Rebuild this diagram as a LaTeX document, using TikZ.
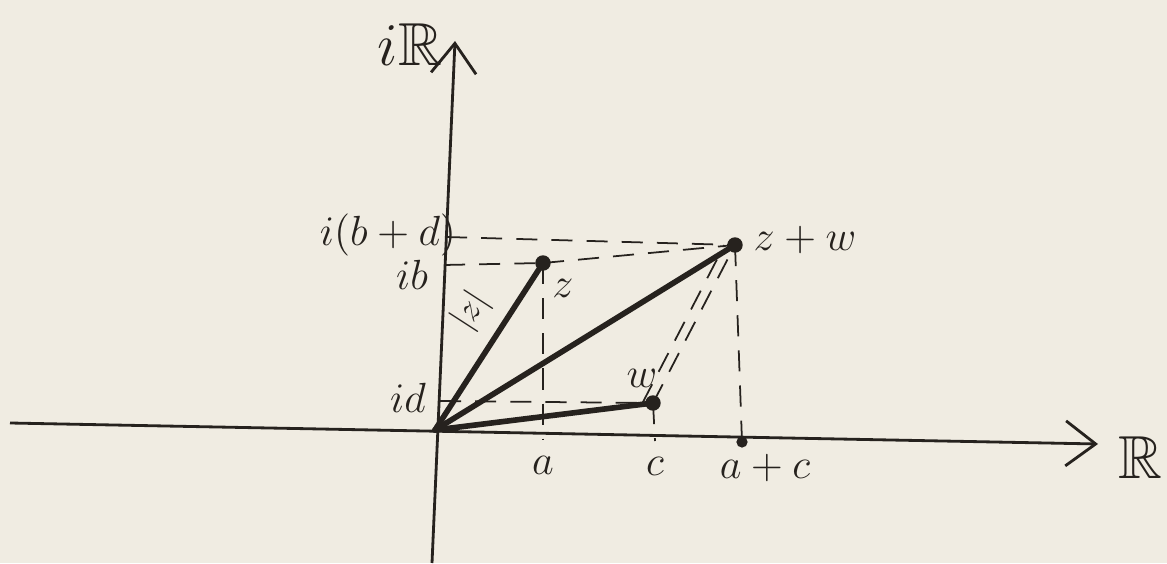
\documentclass[tikz,border=0pt]{standalone}
\usepackage{amsmath,amssymb}
\usepackage{tikz}
\usetikzlibrary{arrows.meta}

\definecolor{paper}{RGB}{240,236,226}
\definecolor{ink}{RGB}{38,34,30}

\begin{document}
\begin{tikzpicture}[x=1cm, y=1cm, every node/.style={font=\large, text=ink},
	vec/.style={ink, line width=1.6pt, line cap=round},
	guide/.style={ink, dashed, line width=0.5pt, dash pattern=on 6pt off 4pt},
	axis/.style={ink, line width=0.8pt, -{Straight Barb[length=3mm, width=4.5mm]}}]
	\fill[paper] (0,0) rectangle (11.67,5.63);
	\useasboundingbox (0,0) rectangle (11.67,5.63);
	% points
	\coordinate (O) at (4.35,1.33);
	\coordinate (z) at (5.43,3.00);
	\coordinate (w) at (6.53,1.60);
	\coordinate (zw) at (7.35,3.18);
	\coordinate (xl) at (0.10,1.40);
	\coordinate (xr) at (10.98,1.19);
	\coordinate (yb) at (4.32,0.00);
	\coordinate (yt) at (4.55,5.22);
	\coordinate (ta) at (5.43,1.23);
	\coordinate (tc) at (6.55,1.22);
	\coordinate (tac) at (7.42,1.21);
	\coordinate (yd) at (4.40,1.62);
	\coordinate (yb1) at (4.44,2.98);
	\coordinate (ybd) at (4.46,3.26);
	% axes
	\draw[axis] (xl) -- (xr);
	\draw[axis] (yb) -- (yt);
	\node (re) at (11.40,1.05) {\LARGE$\mathbb{R}$};
	\node (im) at (4.10,5.18) {\LARGE$i\mathbb{R}$};
	% guides
	\draw[guide] (ybd) -- (zw);
	\draw[guide] (yb1) -- (z);
	\draw[guide] (yd) -- (w);
	\draw[guide] (z) -- (ta);
	\draw[guide] (w) -- (tc);
	\draw[guide] (zw) -- (tac);
	\draw[guide] (z) -- (zw);
	\draw[guide] (w) -- (zw);
	\draw[guide] ([xshift=-3pt]w) -- ([xshift=-3pt]zw);
	% vectors
	\draw[vec] (O) -- (z) node[pos=0.6, sloped, above=3pt, font=\normalsize, inner sep=1pt] (abs) {$|z|$};
	\draw[vec] (O) -- (w);
	\draw[vec] (O) -- (zw);
	\foreach \p in {z, w, zw} {\fill[ink] (\p) circle (2.2pt);}
	\fill[ink] (tac) circle (1.6pt);
	% labels
	\node (lz) at (5.63,2.75) {$z$};
	\node (lw) at (6.42,1.85) {$w$};
	\node (lzw) at (8.05,3.23) {$z+w$};
	\node (la) at (5.43,0.98) {$a$};
	\node (lc) at (6.55,0.97) {$c$};
	\node (lac) at (7.65,0.95) {$a+c$};
	\node (ld) at (4.08,1.65) {$id$};
	\node (lb) at (4.12,2.88) {$ib$};
	\node (lbd) at (3.88,3.28) {$i(b+d)$};
\end{tikzpicture}
\end{document}
